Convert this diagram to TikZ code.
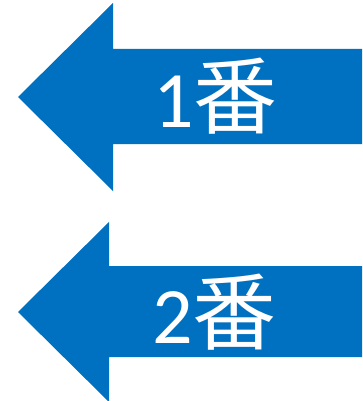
\documentclass[tikz,border=0pt]{standalone}
\usepackage{fontspec}
\newfontfamily\digitfont{Carlito}
\newfontfamily\cjkfont{Noto Sans CJK JP}
\definecolor{arrowblue}{RGB}{0,112,192}
\newcommand\bankanji{{\fontsize{84}{84}\selectfont\cjkfont 番}}
\tikzset{
  arrowshape/.style={fill=arrowblue},
  label/.style={text=white, inner sep=0pt, anchor=base west, font=\fontsize{80}{80}\selectfont}
}
\begin{document}
\begin{tikzpicture}[x=1pt,y=-1pt]
\useasboundingbox (0,0) rectangle (362,401);
\clip (0,0) rectangle (362,401);
\fill[arrowshape] (18,97) -- (113,3) -- (113,49) -- (362,49) -- (362,144) -- (113,144) -- (113,191) -- cycle;
\fill[arrowshape] (18,312) -- (109,222) -- (109,266) -- (362,266) -- (362,357) -- (109,357) -- (109,402) -- cycle;
\node[label] (t1) at (153,128) {\digitfont 1\bankanji};
\node[label] (t2) at (152,343) {\digitfont 2\bankanji};
\end{tikzpicture}
\end{document}
